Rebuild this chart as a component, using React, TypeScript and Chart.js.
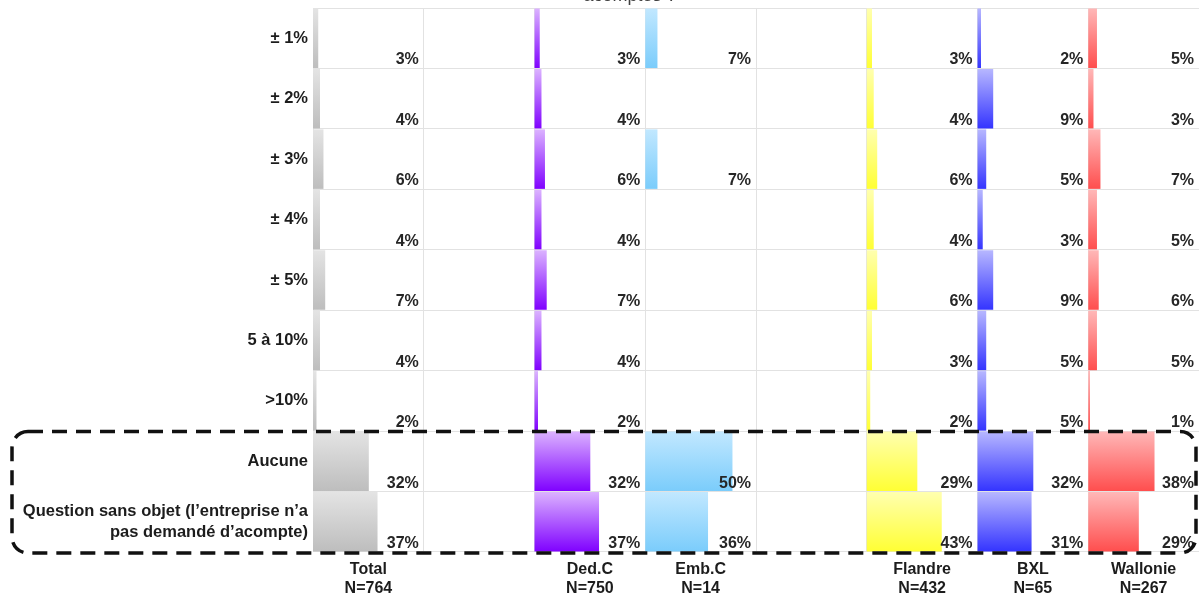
import React, { useEffect, useRef } from "react";
import { Chart, registerables } from "chart.js";

Chart.register(...registerables);

// ---- data ----
const categories: (string | string[])[] = [
  "± 1%",
  "± 2%",
  "± 3%",
  "± 4%",
  "± 5%",
  "5 à 10%",
  ">10%",
  "Aucune",
  ["Question sans objet (l’entreprise n’a", "pas demandé d’acompte)"],
];

const columnNames = ["Total", "", "Ded.C", "Emb.C", "", "Flandre", "BXL", "Wallonie"];
const columnN = ["N=764", "", "N=750", "N=14", "", "N=432", "N=65", "N=267"];

const totalValues = [3, 4, 6, 4, 7, 4, 2, 32, 37];
const dedCValues = [3, 4, 6, 4, 7, 4, 2, 32, 37];
const embCValues = [7, null, 7, null, null, null, null, 50, 36];
const flandreValues = [3, 4, 6, 4, 6, 3, 2, 29, 43];
const bxlValues = [2, 9, 5, 3, 9, 5, 5, 32, 31];
const wallonieValues = [5, 3, 7, 5, 6, 5, 1, 38, 29];

const titleTail = "acomptes ?";

// ---- layout / style ----
const PANEL = 63.5; // value span of one column panel
const FONT = '"Liberation Sans", Arial, sans-serif';

const series = [
  { slot: 0, values: totalValues, top: "#e4e4e4", bottom: "#bdbdbd" },
  { slot: 2, values: dedCValues, top: "#dcb4ff", bottom: "#7f00ff" },
  { slot: 3, values: embCValues, top: "#c2e8ff", bottom: "#7accfb" },
  { slot: 5, values: flandreValues, top: "#ffffb0", bottom: "#ffff33" },
  { slot: 6, values: bxlValues, top: "#b8b8ff", bottom: "#3333ff" },
  { slot: 7, values: wallonieValues, top: "#ffb8b8", bottom: "#ff4d4d" },
];

const overlayPlugin = {
  id: "overlay",
  afterDatasetsDraw(chart: any) {
    const ctx = chart.ctx;
    const x = chart.scales.x;
    const y = chart.scales.y;
    const rowH = Math.abs(y.getPixelForValue(1) - y.getPixelForValue(0));
    ctx.save();
    ctx.font = `bold 16px ${FONT}`;
    ctx.fillStyle = "#262626";
    ctx.textAlign = "right";
    ctx.textBaseline = "alphabetic";
    series.forEach((s) => {
      s.values.forEach((v, i) => {
        if (v == null) return;
        const px = x.getPixelForValue((s.slot + 1) * PANEL) - 5;
        const py = y.getPixelForValue(i) + rowH / 2 - 4;
        ctx.fillText(`${v}%`, px, py);
      });
    });

    // dashed rounded box around the last two rows
    const top = y.getPixelForValue(7) - rowH / 2 + 0.5;
    const bottom = y.getPixelForValue(8) + rowH / 2 + 1;
    const left = 12;
    const right = chart.width - 3;
    const r = 16;
    ctx.setLineDash([15, 9]);
    ctx.lineWidth = 3.5;
    ctx.strokeStyle = "#111111";
    ctx.beginPath();
    ctx.moveTo(left + r, top);
    ctx.lineTo(right - r, top);
    ctx.arcTo(right, top, right, top + r, r);
    ctx.lineTo(right, bottom - r);
    ctx.arcTo(right, bottom, right - r, bottom, r);
    ctx.lineTo(left + r, bottom);
    ctx.arcTo(left, bottom, left, bottom - r, r);
    ctx.lineTo(left, top + r);
    ctx.arcTo(left, top, left + r, top, r);
    ctx.closePath();
    ctx.stroke();
    ctx.setLineDash([]);

    // title, mostly cut off above the picture
    ctx.font = `18px ${FONT}`;
    ctx.fillStyle = "#404040";
    ctx.textAlign = "center";
    ctx.fillText(titleTail, 630, 1);
    ctx.restore();
  },
};

export default function App() {
  const canvasRef = useRef<HTMLCanvasElement | null>(null);

  useEffect(() => {
    const canvas = canvasRef.current;
    if (!canvas) return;

    const datasets = series.map((s) => ({
      label: columnNames[s.slot],
      data: s.values.map((v) => (v == null ? null : [s.slot * PANEL, s.slot * PANEL + v])),
      xAxisID: "x",
      yAxisID: "y",
      grouped: false,
      barPercentage: 0.985,
      categoryPercentage: 1,
      borderWidth: 0,
      backgroundColor: (c: any) => {
        const chart = c.chart;
        const yScale = chart.scales?.y;
        if (!yScale || c.dataIndex == null) return s.bottom;
        const center = yScale.getPixelForValue(c.dataIndex);
        const half = Math.abs(yScale.getPixelForValue(1) - yScale.getPixelForValue(0)) / 2;
        if (!isFinite(center) || !isFinite(half) || half === 0) return s.bottom;
        const g = chart.ctx.createLinearGradient(0, center - half, 0, center + half);
        g.addColorStop(0, s.top);
        g.addColorStop(1, s.bottom);
        return g;
      },
    }));

    const chart = new Chart(canvas, {
      type: "bar",
      data: { labels: categories as any, datasets: datasets as any },
      options: {
        indexAxis: "y",
        responsive: false,
        animation: false,
        layout: { padding: { top: 8, right: 0, left: 0, bottom: 0 } },
        plugins: { legend: { display: false }, tooltip: { enabled: false } },
        scales: {
          x: { type: "linear", min: 0, max: 8 * PANEL, display: false },
          x2: {
            type: "category",
            position: "bottom",
            labels: columnNames.map((n, i) => (n ? [n, columnN[i]] : "")) as any,
            offset: true,
            grid: { offset: true, color: "#e2e2e2", drawTicks: false },
            border: { display: false },
            ticks: {
              font: { family: FONT, size: 16, weight: "bold" },
              color: "#1c1c1c",
              padding: 8,
              maxRotation: 0,
              autoSkip: false,
            },
            afterFit: (s: any) => {
              s.height = 44;
              s.paddingLeft = 0;
              s.paddingRight = 0;
            },
          },
          y: {
            type: "category",
            offset: true,
            grid: { offset: true, color: "#e2e2e2", drawTicks: false },
            border: { display: false },
            ticks: {
              font: { family: FONT, size: 16.5, weight: "bold", lineHeight: 1.28 },
              color: "#1c1c1c",
              padding: 5,
              autoSkip: false,
            },
            afterFit: (s: any) => {
              s.width = 313;
              s.paddingTop = 0;
              s.paddingBottom = 0;
            },
          },
        },
      } as any,
      plugins: [overlayPlugin],
    });

    return () => chart.destroy();
  }, []);

  return (
    <div style={{ position: "absolute", left: 0, top: 0, width: 1199, height: 596, background: "#fff" }}>
      <canvas ref={canvasRef} width={1199} height={596} style={{ display: "block" }} />
    </div>
  );
}
